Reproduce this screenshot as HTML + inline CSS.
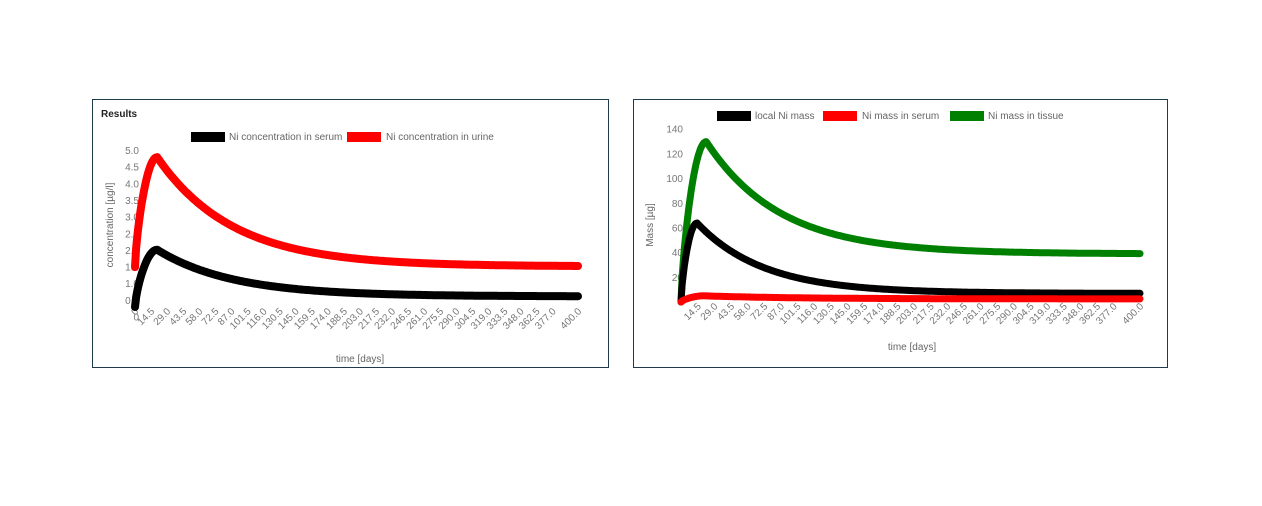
<!DOCTYPE html>
<html><head><meta charset="utf-8">
<style>
html,body{margin:0;padding:0;background:#fff;width:1262px;height:506px;overflow:hidden}
svg{position:absolute;left:0;top:0;font-family:"Liberation Sans",sans-serif}
</style></head><body>
<svg id="s" width="1262" height="506" viewBox="0 0 1262 506">
<rect x="92.5" y="99.5" width="516" height="268" fill="#fff" stroke="#1f3a4a" stroke-width="1"/>
<rect x="633.5" y="99.5" width="534" height="268" fill="#fff" stroke="#1f3a4a" stroke-width="1"/>
<text x="101" y="117" font-size="10" font-weight="bold" fill="#222">Results</text>
<rect x="191" y="132" width="34" height="10" fill="#000"/>
<text x="229" y="140" font-size="10" fill="#666">Ni concentration in serum</text>
<rect x="347" y="132" width="34" height="10" fill="#f00"/>
<text x="386" y="140" font-size="10" fill="#666">Ni concentration in urine</text>
<text transform="translate(113,225) rotate(-90)" text-anchor="middle" font-size="10" fill="#666">concentration [µg/l]</text>
<text x="360" y="362" text-anchor="middle" font-size="10" fill="#666">time [days]</text>
<rect x="717" y="111" width="34" height="10" fill="#000"/>
<text x="755" y="119" font-size="10" fill="#666">local Ni mass</text>
<rect x="823" y="111" width="34" height="10" fill="#f00"/>
<text x="862" y="119" font-size="10" fill="#666">Ni mass in serum</text>
<rect x="950" y="111" width="34" height="10" fill="#008000"/>
<text x="988" y="119" font-size="10" fill="#666">Ni mass in tissue</text>
<text transform="translate(653,225) rotate(-90)" text-anchor="middle" font-size="10" fill="#666">Mass [µg]</text>
<text x="912" y="350" text-anchor="middle" font-size="10" fill="#666">time [days]</text>
<g id="g"></g>
</svg>
<script>
var g=document.getElementById('g'),NS='http://www.w3.org/2000/svg';
function el(n,a,t){var e=document.createElementNS(NS,n);for(var k in a)e.setAttribute(k,a[k]);if(t!=null)e.textContent=t;g.appendChild(e);return e;}
function curve(t,base,peak,tp,tau,start){
  if(t<tp){var u=t/tp;return start+(peak-start)*Math.pow(Math.sin(u*Math.PI/2),0.7);}
  return base+(peak-base)*Math.exp(-(t-tp)/tau);
}
function draw(x0,x1,y0,ys,f,col,w){
  var d='';for(var t=0;t<=400;t+=1){var x=x0+t*(x1-x0)/400,y=y0-f(t)*ys;d+=(t?'L':'M')+x.toFixed(1)+','+y.toFixed(1);}
  el('path',{d:d,fill:'none',stroke:col,'stroke-width':w,'stroke-linecap':'round','stroke-linejoin':'round'});
}
var L0=135,L1=578,Ly0=317,Lys=33.3;
for(var v=0;v<=10;v++){var val=v*0.5;el('text',{x:139,y:Ly0-val*Lys+3.5,'text-anchor':'end','font-size':10,fill:'#777'},v==0?'0':val.toFixed(1));}
function xt(x0,x1,yb,first){
  var ts=[];for(var k=first;k<=26;k++)ts.push(k*14.5);ts.push(400);
  ts.forEach(function(t){var x=x0+t*(x1-x0)/400;
    var lab=t==0?'0':t.toFixed(1);
    el('text',{transform:'translate('+(x+4)+','+yb+') rotate(-45)','text-anchor':'end','font-size':10,fill:'#777'},lab);});
}
xt(L0,L1,312,0);
draw(L0,L1,Ly0,Lys,function(t){return curve(t,1.52,4.8,20,68,1.5);},'#f00',8);
draw(L0,L1,Ly0,Lys,function(t){return curve(t,0.62,2.02,20,68,0.3);},'#000',8);
var R0=681,R1=1140,Ry0=302,Rys=1.234;
for(var v=1;v<=7;v++){var val=v*20;el('text',{x:683,y:Ry0-val*Rys+3.5,'text-anchor':'end','font-size':10,fill:'#777'},String(val));}
xt(R0,R1,307,1);
draw(R0,R1,Ry0,Rys,function(t){return curve(t,39,130,22,64,0);},'#008000',7);
draw(R0,R1,Ry0,Rys,function(t){return curve(t,7,64,14,58,0);},'#000',7);
draw(R0,R1,Ry0,Rys,function(t){return curve(t,2.5,5,20,80,0);},'#f00',7);
</script>
</body></html>
